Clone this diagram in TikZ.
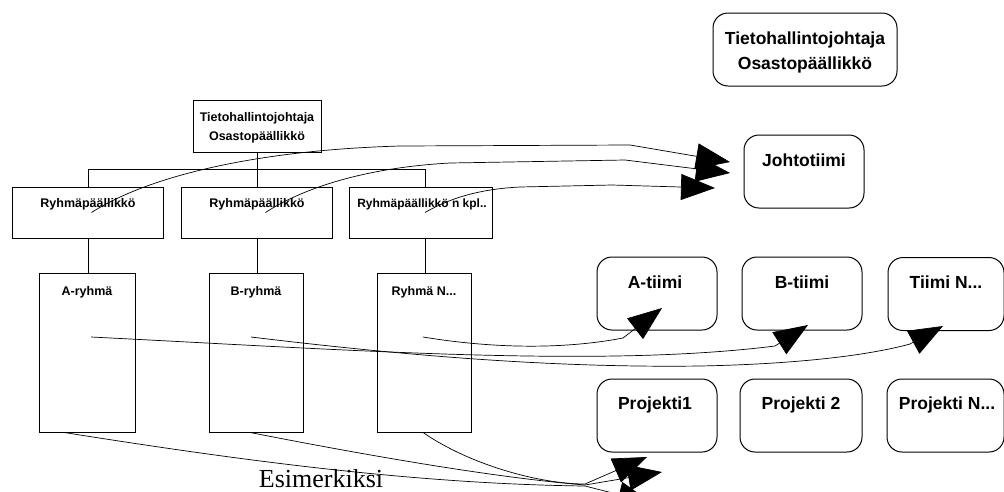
\documentclass[tikz,border=0pt]{standalone}
\usepackage{fontspec}
\setmainfont{Liberation Sans}
\newfontfamily\serifesim{Liberation Serif}
\usetikzlibrary{arrows.meta,calc}
\tikzset{
  ln/.style={line width=0.7pt},
  sqbox/.style={draw, line width=0.9pt, rectangle, inner sep=0pt},
  rbox/.style={draw, line width=1pt, rounded corners=15pt, inner sep=0pt, minimum width=120pt, minimum height=73pt},
  lbl/.style={font=\fontsize{12.5}{19}\selectfont\bfseries, inner sep=0pt, align=center, anchor=base},
  rlbl/.style={font=\fontsize{17.5}{25}\selectfont\bfseries, inner sep=0pt, align=center, anchor=base},
  arr/.style={line width=0.7pt, -{Triangle[length=34pt,width=26pt]}},
}
\begin{document}
\begin{tikzpicture}[x=1pt,y=-1pt]
\useasboundingbox (0,0) rectangle (1004,491);
\clip (0,0) rectangle (1004,491);

% ---- left org chart ----
\node[sqbox, minimum width=128pt, minimum height=52pt] (top) at (257,126) {};
\node[lbl] (toptxt) at (257,140.5) {Tietohallintojohtaja\\Osastopäällikkö};

\node[sqbox, minimum width=151pt, minimum height=51pt] (R1) at (87.5,212.5) {};
\node[sqbox, minimum width=151pt, minimum height=51pt] (R2) at (256.5,212.5) {};
\node[sqbox, minimum width=143pt, minimum height=51pt] (R3) at (420.5,212.5) {};
\node[lbl] (R1t) at (88,207.5) {Ryhmäpäällikkö};
\node[lbl] (R2t) at (257,207.5) {Ryhmäpäällikkö};
\node[lbl, font=\fontsize{12}{19}\selectfont\bfseries] (R3t) at (422,207.5) {Ryhmäpäällikkö n kpl..};

\node[sqbox, minimum width=96pt, minimum height=159pt] (GA) at (87,352.5) {};
\node[sqbox, minimum width=94pt, minimum height=159pt] (GB) at (256,352.5) {};
\node[sqbox, minimum width=94pt, minimum height=159pt] (GN) at (424,352.5) {};
\node[lbl] (GAt) at (87,295.5) {A-ryhmä};
\node[lbl] (GBt) at (256,295.5) {B-ryhmä};
\node[lbl] (GNt) at (424,295.5) {Ryhmä N...};

% bus
\coordinate (busL) at (88,169);
\coordinate (busM) at (257,169);
\coordinate (busR) at (425,169);
\draw[ln] (top.south) -- (busM);
\draw[ln] (busL) -- (busR);
\draw[ln] (busL) -- (busL |- R1.north);
\draw[ln] (busM) -- (busM |- R2.north);
\draw[ln] (busR) -- (busR |- R3.north);
\draw[ln] (R1.south -| busL) -- (busL |- GA.north);
\draw[ln] (R2.south -| busM) -- (busM |- GB.north);
\draw[ln] (R3.south -| busR) -- (busR |- GN.north);

% ---- right side ----
\node[rbox, minimum width=184pt] (TR) at (805,49.5) {};
\node[rlbl] (TRt) at (805,69.5) {Tietohallintojohtaja\\Osastopäällikkö};
\node[rbox] (JT) at (804,171.5) {};
\node[rlbl] (JTt) at (804,166) {Johtotiimi};

\node[rbox] (AT) at (657,293.5) {};
\node[rbox] (BT) at (802,293.5) {};
\node[rbox, minimum width=116pt] (NT) at (946,294) {};
\node[rlbl] (ATt) at (655,288) {A-tiimi};
\node[rlbl] (BTt) at (802,288) {B-tiimi};
\node[rlbl] (NTt) at (946,288) {Tiimi N...};

\node[rbox] (P1) at (657,415.5) {};
\node[rbox, minimum width=122pt] (P2) at (801,415.5) {};
\node[rbox, minimum width=117pt] (PN) at (945.5,415.5) {};
\node[rlbl] (P1t) at (655,409) {Projekti1};
\node[rlbl] (P2t) at (801,409) {Projekti 2};
\node[rlbl] (PNt) at (947,409) {Projekti N...};

\node[font=\serifesim\fontsize{26}{30}\selectfont, inner sep=0pt, anchor=base] (esim) at (321,487) {Esimerkiksi};

% ---- arrow targets ----
\coordinate (j1) at (730,162);
\coordinate (j2) at (730,173);
\coordinate (j3) at (715,188);
\coordinate (ta) at (662,308);
\coordinate (tb) at (808,325);
\coordinate (tn) at (943,326);
\coordinate (p1) at (647,457);
\coordinate (p2) at (662,472);
\coordinate (p3) at (652,503);

% to Johtotiimi
\draw[arr] ([xshift=4pt]R1.center) .. controls (150,175) and (260,150) .. (400,146) -- (630,145) -- (j1);
\draw[arr] ([xshift=9pt]R2.center) .. controls (300,190) and (360,168) .. (450,163) -- (625,160) -- (j2);
\draw[arr] ([xshift=4.5pt]R3.center) .. controls (450,198) and (480,189) .. (520,187) -- (612,185) -- (j3);

% to teams
\draw[arr] ([xshift=-1pt,yshift=15.5pt]GN.center) .. controls (490,348) and (560,350) .. (623,338) -- (ta);
\draw[arr] ([xshift=4pt,yshift=15.5pt]GA.center) .. controls (350,350) and (600,368) .. (775,346) -- (tb);
\draw[arr] ([xshift=-5pt,yshift=15.5pt]GB.center) .. controls (400,355) and (550,368) .. (700,366) .. controls (800,364) and (870,355) .. (910,344) -- (tn);

% to projects
\draw[arr] ([xshift=-1pt]GN.south) .. controls (470,465) and (540,484) .. (585,484) -- (p1);
\draw[arr] ([xshift=-6pt]GB.south) .. controls (380,458) and (500,478) .. (585,485) -- (p2);
\draw[arr] ([xshift=-23pt]GA.south) .. controls (250,462) and (420,484) .. (585,486) -- (p3);
\end{tikzpicture}
\end{document}
